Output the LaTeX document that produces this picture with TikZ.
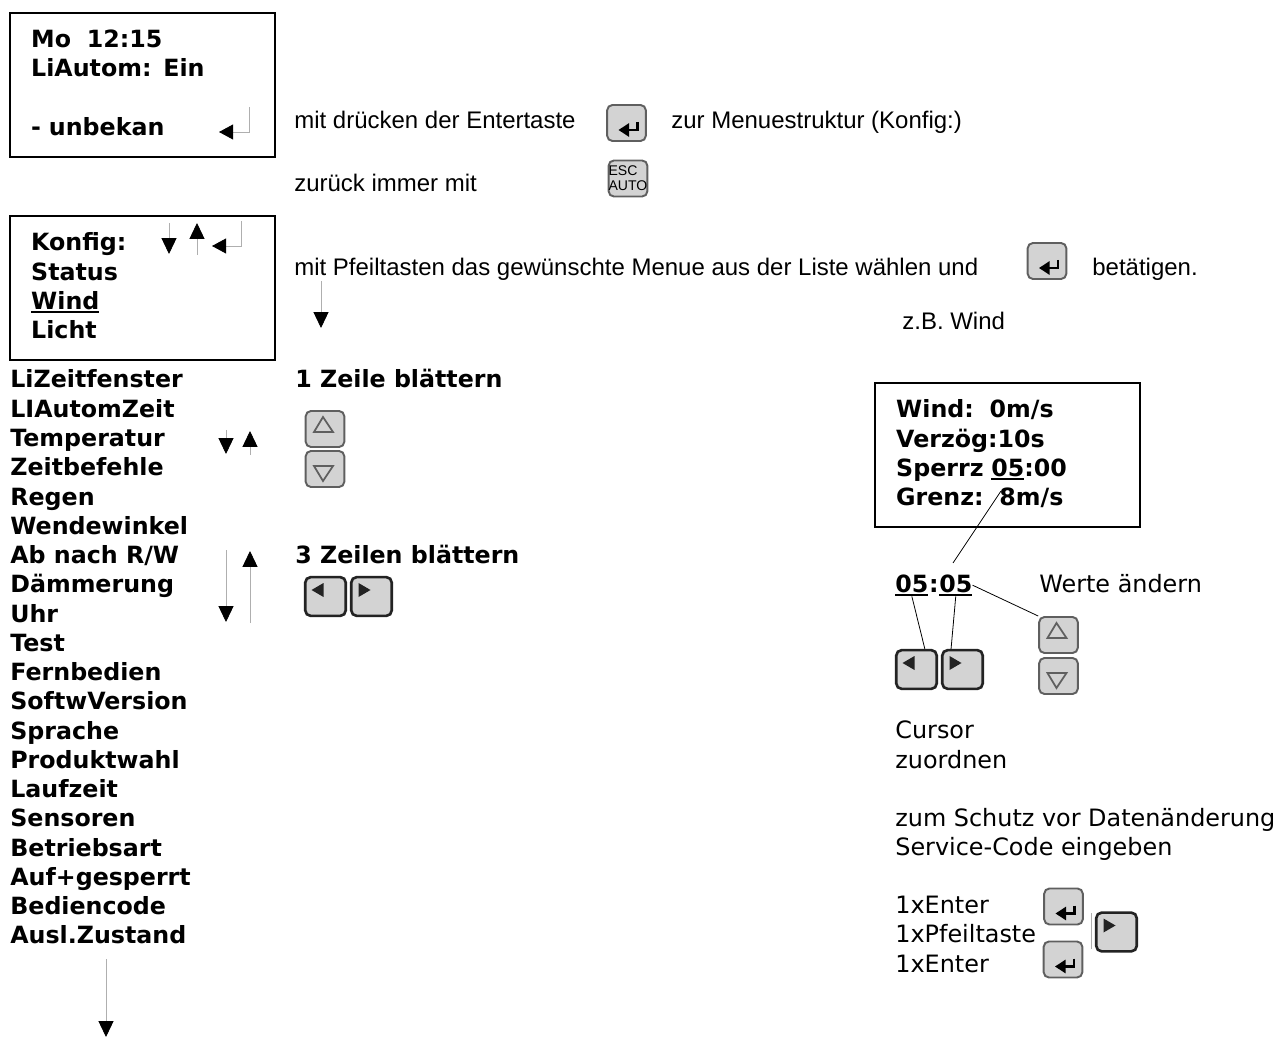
\documentclass[tikz,border=0pt]{standalone}
\usepackage{fontspec}
\setmainfont{Liberation Sans}
\newfontfamily\lcdfont{DejaVu Sans}
\usetikzlibrary{arrows.meta,positioning,calc}
\definecolor{keyFill}{RGB}{211,211,211}
\definecolor{keyEdge}{RGB}{95,95,95}
\definecolor{keyDark}{RGB}{35,35,35}
\definecolor{thinLine}{RGB}{175,175,175}

% underlined display value
\newcommand{\lcdunder}[1]{\leavevmode\vtop{\hbox{#1}\kern0.9pt\hrule height 1.2pt}}
% lifts the text block of a display a little
\newcommand{\lcdend}{\rule[-0.1cm]{0pt}{0pt}}

% one key: name, centre
\newcommand{\enterkey}[2]{%
  \begin{scope}[shift={(#2)}]
    \node[softkey] (#1) at (0,0) {};
    \draw[line width=1.2pt,-{Triangle[length=6pt,width=7.5pt]}] (11,-1) -- (11,7) -- (-8,7);
  \end{scope}}
\newcommand{\upkey}[2]{%
  \begin{scope}[shift={(#2)}]
    \node[softkey] (#1) at (0,0) {};
    \draw[keyglyph] (-11,3) -- (8,3) -- (-2,-12) -- cycle;
  \end{scope}}
\newcommand{\downkey}[2]{%
  \begin{scope}[shift={(#2)}]
    \node[softkey] (#1) at (0,0) {};
    \draw[keyglyph] (-11,-3) -- (8,-3) -- (-2,12) -- cycle;
  \end{scope}}
\newcommand{\leftkey}[2]{%
  \begin{scope}[shift={(#2)}]
    \node[darkkey] (#1) at (0,0) {};
    \fill[keyDark] (-14,-6.5) -- (-2,-13.5) -- (-2,0.5) -- cycle;
  \end{scope}}
\newcommand{\rightkey}[2]{%
  \begin{scope}[shift={(#2)}]
    \node[darkkey] (#1) at (0,0) {};
    \fill[keyDark] (-1,-6.5) -- (-13,-13.5) -- (-13,0.5) -- cycle;
  \end{scope}}

\begin{document}
\begin{tikzpicture}[
    x=0.02cm, y=-0.02cm,
    lcdbox/.style={rectangle, draw=black, line width=1.4pt, anchor=north west,
                   minimum width=5.3cm, minimum height=2.88cm, inner xsep=0.42cm, inner ysep=0pt,
                   text width=4.46cm, align=left, font=\lcdfont\bfseries\fontsize{13.5}{16.65}\selectfont},
    lcd/.style={anchor=base west, inner sep=0pt, font=\lcdfont\bfseries\fontsize{13.5}{16.65}\selectfont},
    hint/.style={anchor=base west, inner sep=0pt, font=\lcdfont\fontsize{13.6}{16.65}\selectfont},
    note/.style={anchor=base west, inner sep=0pt, font=\fontsize{13.65}{16}\selectfont},
    softkey/.style={rectangle, rounded corners=3pt, draw=keyEdge, fill=keyFill, line width=1.1pt,
                    minimum width=22pt, minimum height=20.5pt, inner sep=0pt},
    darkkey/.style={softkey, draw=keyDark, line width=1.5pt, minimum width=23pt, minimum height=22pt},
    keyglyph/.style={draw=keyEdge, line width=1pt},
    pfeil/.style={draw=thinLine, line width=0.5pt, -{Triangle[length=9pt,width=8.5pt,color=black]}},
    lead/.style={draw=black, line width=0.45pt}
  ]
  \useasboundingbox (0,0) rectangle (1279,1037);

  % displays
  \node[lcdbox] (home) at (9,12) {Mo\ \ 12:15\\LiAutom: Ein\\[16.65pt]- unbekan\lcdend};
  \node[lcdbox] (konfig) at (9,215) {Konfig:\\Status\\\lcdunder{Wind}\\Licht\lcdend};
  \node[lcdbox] (windbox) at (874,382) {Wind:\ \ 0m/s\\Verzög:10s\\Sperrz \lcdunder{05}:00\\Grenz:\ \ 8m/s\lcdend};

  % arrows inside the displays
  \coordinate (homeTop) at (249,107);
  \coordinate (homeTip) at (219,132);
  \draw[draw=thinLine, line width=0.5pt, -{Triangle[length=8pt,width=8.5pt,color=black]}] (homeTop) |- (homeTip);
  \coordinate (konfDnA) at (169,223);
  \coordinate (konfDnB) at (169,254);
  \draw[pfeil] (konfDnA) -- (konfDnB);
  \coordinate (konfUpA) at (197,255);
  \coordinate (konfUpB) at (197,223);
  \draw[pfeil] (konfUpA) -- (konfUpB);
  \coordinate (konfEnA) at (241,221);
  \coordinate (konfEnB) at (212,246);
  \draw[draw=thinLine, line width=0.5pt, -{Triangle[length=8pt,width=8.5pt,color=black]}] (konfEnA) |- (konfEnB);
  \coordinate (pickA) at (321,281);
  \coordinate (pickB) at (321,328);
  \draw[pfeil] (pickA) -- (pickB);

  % text lines
  \node[note] (t1) at (294,129) {mit drücken der Entertaste};
  \node[note] (t2) at (671,129) {zur Menuestruktur (Konfig:)};
  \node[note] (t3) at (294,192) {zurück immer mit};
  \node[note] (t4) at (294,276) {mit Pfeiltasten das gewünschte Menue aus der Liste wählen und};
  \node[note] (t5) at (1092,276) {betätigen.};
  \node[note] (t6) at (902,330) {z.B. Wind};

  % menu list
  \foreach \entry [count=\i from 0] in {LiZeitfenster,LIAutomZeit,Temperatur,Zeitbefehle,Regen,
      Wendewinkel,Ab nach R/W,Dämmerung,Uhr,Test,Fernbedien,SoftwVersion,Sprache,Produktwahl,
      Laufzeit,Sensoren,Betriebsart,Auf+gesperrt,Bediencode,Ausl.Zustand}
    \node[lcd] (menu\i) at (10,388+29.25*\i) {\entry};

  \node[lcd] (oneline) at (295,388) {1 Zeile blättern};
  \node[lcd] (threeline) at (295,563) {3 Zeilen blättern};

  % scroll arrows
  \coordinate (oneDnA) at (226,430);
  \coordinate (oneDnB) at (226,454);
  \draw[pfeil] (oneDnA) -- (oneDnB);
  \coordinate (oneUpA) at (250,455);
  \coordinate (oneUpB) at (250,431);
  \draw[pfeil] (oneUpA) -- (oneUpB);
  \coordinate (threeDnA) at (226,550);
  \coordinate (threeDnB) at (226,622);
  \draw[pfeil] (threeDnA) -- (threeDnB);
  \coordinate (threeUpA) at (250,623);
  \coordinate (threeUpB) at (250,551);
  \draw[pfeil] (threeUpA) -- (threeUpB);
  \coordinate (moreA) at (106,959);
  \coordinate (moreB) at (106,1037);
  \draw[pfeil] (moreA) -- (moreB);

  % keys
  \enterkey{enterA}{626.5,123}
  \node[softkey, align=left, font=\fontsize{8}{8.6}\selectfont] (esckey) at (628,178.5) {ESC\\AUTO};
  \enterkey{enterB}{1047,261}
  \upkey{scrollUp}{325,429}
  \downkey{scrollDn}{325,469}
  \leftkey{pageLeft}{325.5,596.5}
  \rightkey{pageRight}{371.5,596.5}

  % wind value
  \node[lcd] (hoursval) at (895,592) {\lcdunder{05}};
  \node[lcd, right=0pt of hoursval.base east, anchor=base west] (colonval) {:};
  \node[lcd, right=0pt of colonval.base east, anchor=base west] (minsval) {\lcdunder{05}};
  \node[hint] (werte) at (1039,592) {Werte ändern};
  \leftkey{cursorLeft}{916.5,669.5}
  \rightkey{cursorRight}{962.5,669.5}
  \upkey{valueUp}{1058.5,635}
  \downkey{valueDn}{1058.5,676}
  \coordinate (slashTop) at (1001,491);
  \coordinate (slashEnd) at (953,563);
  \draw[lead] (slashTop) -- (slashEnd);
  \draw[lead] (hoursval.south) -- (cursorLeft.68);
  \draw[lead] (minsval.south) -- (cursorRight.119);
  \draw[lead] (minsval.east) -- (valueUp.north west);

  \node[hint] (cursor) at (895,738) {Cursor};
  \node[hint] (zuordnen) at (895,768) {zuordnen};
  \node[hint] (schutz) at (895,826) {zum Schutz vor Datenänderung};
  \node[hint] (service) at (895,855) {Service-Code eingeben};
  \node[hint] (enterOne) at (895,913) {1xEnter};
  \node[hint] (pfeilOne) at (895,942) {1xPfeiltaste};
  \node[hint] (enterTwo) at (895,972) {1xEnter};
  \enterkey{codeEnterA}{1063.5,906.5}
  \enterkey{codeEnterB}{1063,959.5}
  \rightkey{codeRight}{1116.5,932}
  \coordinate (barTop) at (1091,913);
  \coordinate (barEnd) at (1091,949);
  \draw[draw=thinLine, line width=0.5pt] (barTop) -- (barEnd);
\end{tikzpicture}
\end{document}
